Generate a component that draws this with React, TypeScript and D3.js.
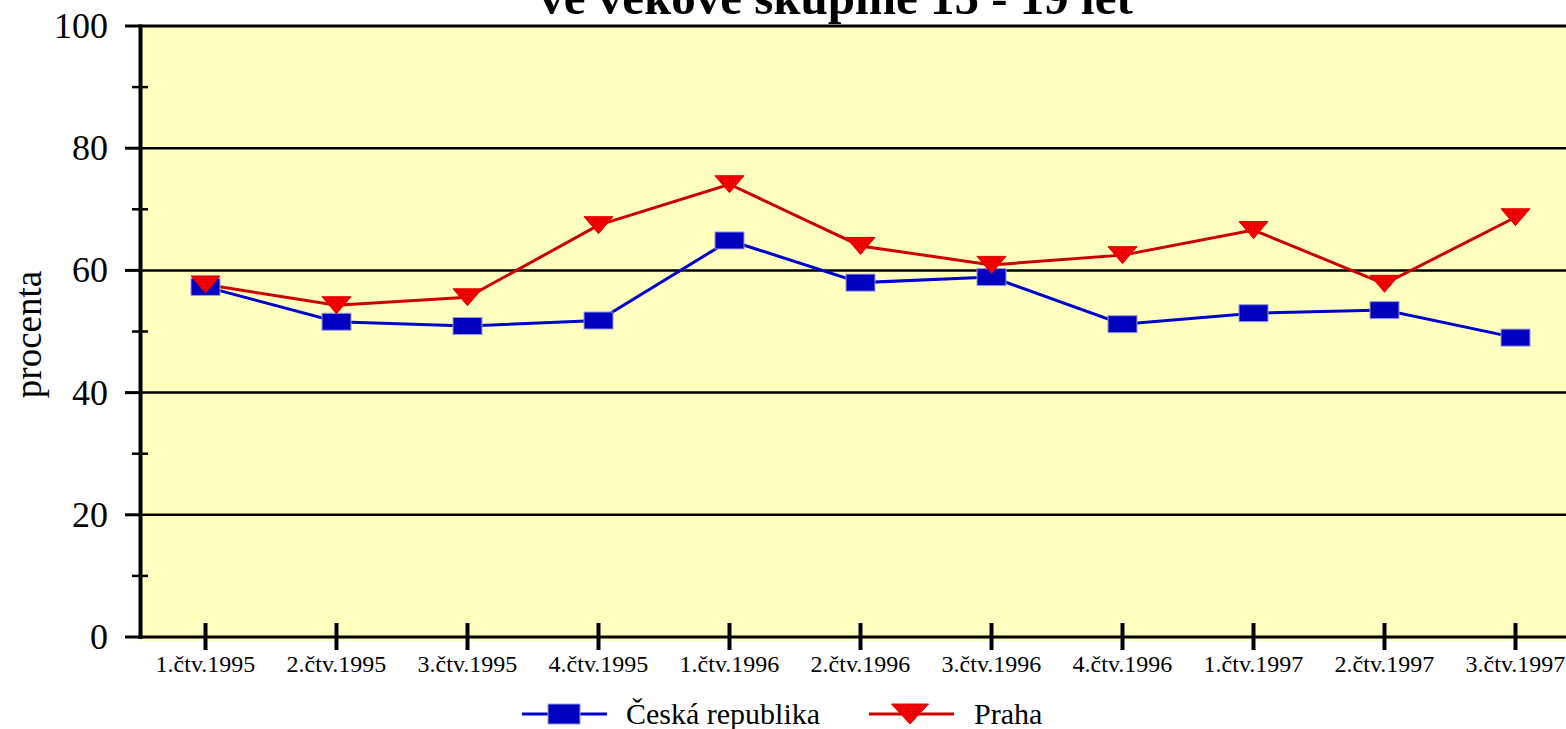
import React from "react";
import * as d3 from "d3";

const categories = [
  "1.čtv.1995", "2.čtv.1995", "3.čtv.1995", "4.čtv.1995",
  "1.čtv.1996", "2.čtv.1996", "3.čtv.1996", "4.čtv.1996",
  "1.čtv.1997", "2.čtv.1997", "3.čtv.1997",
];
const ceskaRepublika = [57.3, 51.6, 50.9, 51.8, 64.9, 58.0, 58.9, 51.2, 53.0, 53.5, 49.0];
const praha = [57.7, 54.3, 55.6, 67.4, 74.1, 64.0, 60.9, 62.5, 66.6, 57.8, 68.7];
const majorTicks = [0, 20, 40, 60, 80, 100];
const minorTicks = [10, 30, 50, 70, 90];
const titleText = "ve věkové skupině 15 - 19 let";
const yAxisTitle = "procenta";
const seriesNames = ["Česká republika", "Praha"];

const W = 1566;
const H = 729;
const FONT = "'Liberation Serif', 'Times New Roman', serif";

export default function App() {
  const x = d3.scaleBand<string>().domain(categories).range([140, 1581]).padding(0);
  const cx = (c: string) => (x(c) as number) + x.bandwidth() / 2;
  const y = d3.scaleLinear().domain([0, 100]).range([637, 26]);

  const lineGen = d3
    .line<number>()
    .x((_, i) => cx(categories[i]))
    .y((d) => y(d));

  const sqW = 29, sqH = 17;
  const triW = 29, triH = 17;
  const tri = (px: number, py: number, w: number, h: number) =>
    `M${px - w / 2},${py - h / 2}L${px + w / 2},${py - h / 2}L${px},${py + h / 2}Z`;

  return (
    <svg width={W} height={H} style={{ position: "absolute", left: 0, top: 0, background: "#fff" }}>
      <defs>
        <pattern id="hatchBlue" width="3" height="3" patternUnits="userSpaceOnUse" patternTransform="rotate(45)">
          <rect width="3" height="3" fill="#0000CC" />
          <line x1="0" y1="0" x2="0" y2="3" stroke="#000080" strokeWidth="1" />
        </pattern>
        <pattern id="gridRed" width="3" height="3" patternUnits="userSpaceOnUse">
          <rect width="3" height="3" fill="#FF0000" />
          <line x1="0" y1="0" x2="3" y2="0" stroke="#C00000" strokeWidth="0.8" />
          <line x1="0" y1="0" x2="0" y2="3" stroke="#C00000" strokeWidth="0.8" />
        </pattern>
      </defs>

      {/* title (first line cut off above, as in the original) */}
      <text x={836} y={14} textAnchor="middle" fontFamily={FONT} fontWeight="bold" fontSize={49} fill="#000">
        {titleText}
      </text>

      {/* plot background */}
      <rect x={140} y={26} width={W - 140} height={615} fill="#FFFFC0" />

      {/* gridlines */}
      {majorTicks.map((t) => (
        <line key={"g" + t} x1={140} x2={W} y1={y(t)} y2={y(t)} stroke="#000" strokeWidth={t === 100 || t === 0 ? 3 : 2.5} />
      ))}

      {/* y axis */}
      <line x1={140.5} x2={140.5} y1={24.5} y2={639} stroke="#000" strokeWidth={4} />
      {majorTicks.map((t) => (
        <line key={"mt" + t} x1={125} x2={141} y1={y(t)} y2={y(t)} stroke="#000" strokeWidth={3} />
      ))}
      {minorTicks.map((t) => (
        <line key={"nt" + t} x1={132} x2={148} y1={y(t)} y2={y(t)} stroke="#000" strokeWidth={2.5} />
      ))}
      {majorTicks.map((t) => (
        <text key={"yl" + t} x={108} y={y(t) + 12} textAnchor="end" fontFamily={FONT} fontSize={36} fill="#000">
          {t}
        </text>
      ))}
      <text
        transform={`translate(41,${y(50) + 3}) rotate(-90)`}
        textAnchor="middle"
        fontFamily={FONT}
        fontSize={37}
        fill="#000"
      >
        {yAxisTitle}
      </text>

      {/* x ticks + labels */}
      {categories.map((c) => (
        <g key={"x" + c}>
          <line x1={cx(c)} x2={cx(c)} y1={623} y2={650} stroke="#000" strokeWidth={4} />
          <text x={cx(c)} y={672} textAnchor="middle" fontFamily={FONT} fontSize={24} fill="#000">
            {c}
          </text>
        </g>
      ))}

      {/* series lines */}
      <path d={lineGen(ceskaRepublika) || ""} fill="none" stroke="#0000CC" strokeWidth={3} />
      <path d={lineGen(praha) || ""} fill="none" stroke="#CC0000" strokeWidth={3} />

      {/* markers */}
      {ceskaRepublika.map((v, i) => (
        <rect
          key={"sq" + i}
          x={cx(categories[i]) - sqW / 2}
          y={y(v) - sqH / 2}
          width={sqW}
          height={sqH}
          fill="url(#hatchBlue)"
          stroke="#9999DD"
          strokeWidth={1}
        />
      ))}
      {praha.map((v, i) => (
        <path key={"tr" + i} d={tri(cx(categories[i]), y(v), triW, triH)} fill="url(#gridRed)" stroke="#E00000" strokeWidth={1} />
      ))}

      {/* legend */}
      <line x1={522} x2={607} y1={714} y2={714} stroke="#0000CC" strokeWidth={3} />
      <rect x={548} y={704} width={32} height={20} fill="url(#hatchBlue)" stroke="#9999DD" strokeWidth={1} />
      <text x={626} y={724} fontFamily={FONT} fontSize={30} fill="#000">
        {seriesNames[0]}
      </text>
      <line x1={869} x2={954} y1={714} y2={714} stroke="#CC0000" strokeWidth={3} />
      <path d={tri(910, 714, 37, 20)} fill="url(#gridRed)" stroke="#E00000" strokeWidth={1} />
      <text x={974} y={724} fontFamily={FONT} fontSize={30} fill="#000">
        {seriesNames[1]}
      </text>
    </svg>
  );
}
